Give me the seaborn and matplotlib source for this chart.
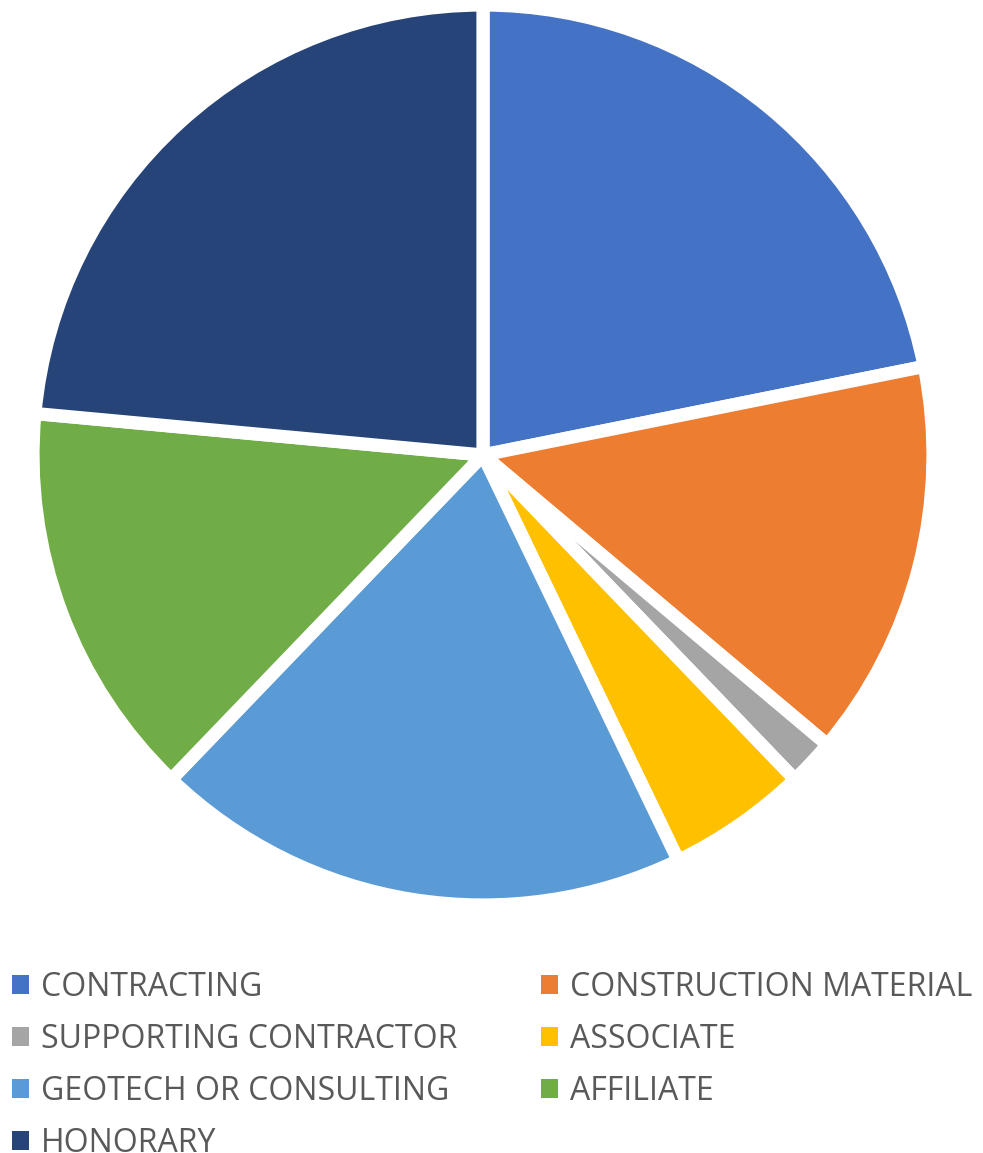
import numpy as np
import matplotlib
matplotlib.use("Agg")
import matplotlib.pyplot as plt
from matplotlib.patches import Patch
import seaborn as sns

# Data (member counts)
categories = ["CONTRACTING", "CONSTRUCTION MATERIAL", "SUPPORTING CONTRACTOR",
              "ASSOCIATE", "GEOTECH OR CONSULTING", "AFFILIATE", "HONORARY"]
counts = [26, 17, 2, 6, 23, 17, 28]
hex_colors = ["#4472C4", "#ED7D31", "#A5A5A5", "#FFC000",
              "#5B9BD5", "#70AD47", "#264478"]

sns.set_theme(style="white")
plt.rcParams['font.family'] = ['Open Sans', 'DejaVu Sans']
palette = sns.color_palette(hex_colors)

W, H = 983, 1153
fig = plt.figure(figsize=(W / 100, H / 100), dpi=100)

# pie axes: centre (483, 455) px, radius 450 px
cx, cy, r = 483, 455, 450
ax = fig.add_axes([(cx - r) / W, (H - cy - r) / H, 2 * r / W, 2 * r / H])
wedges, _ = ax.pie(counts, colors=palette, startangle=90, counterclock=False,
                   radius=1.0,
                   wedgeprops=dict(edgecolor="white", linewidth=9.5))
ax.set_xlim(-1, 1)
ax.set_ylim(-1, 1)
ax.set_aspect("equal")
ax.axis("off")

# legend, row-major order in 2 columns
order = [0, 2, 4, 6, 1, 3, 5]
handles = [Patch(facecolor=palette[i], edgecolor="none") for i in order]
labels = [categories[i] for i in order]
leg = fig.legend(handles, labels, ncol=2, loc="upper left",
                 bbox_to_anchor=(2 / W, 1 - 961 / H), frameon=False,
                 fontsize=23, handlelength=0.55, handleheight=0.55,
                 handletextpad=0.38, labelspacing=0.6, columnspacing=2.6,
                 borderaxespad=0, borderpad=0.3)
for t in leg.get_texts():
    t.set_color("#595959")

fig.savefig("out.png", dpi=100)
